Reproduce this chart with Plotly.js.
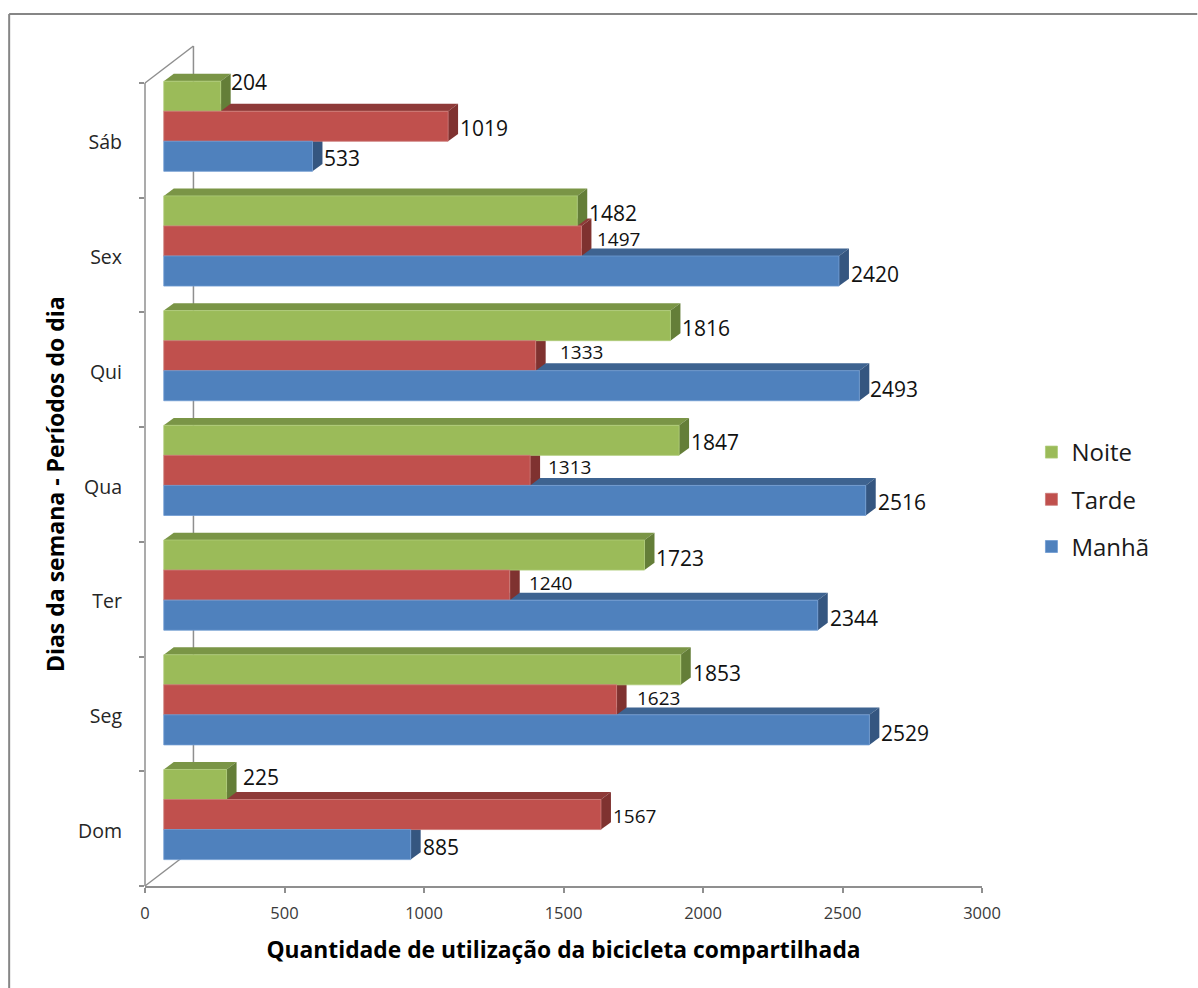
<!DOCTYPE html>
<html>
<head>
<meta charset="utf-8">
<script src="https://cdn.plot.ly/plotly-3.0.1.min.js"></script>
<style>html,body{margin:0;padding:0;background:#fff}</style>
</head>
<body>
<div id="chart" style="width:1198px;height:988px"></div>
<script>
// Bike-share usage per weekday and period of the day
const dias  = ['Dom', 'Seg', 'Ter', 'Qua', 'Qui', 'Sex', 'Sáb'];
const manha = [885, 2529, 2344, 2516, 2493, 2420, 533];
const tarde = [1567, 1623, 1240, 1313, 1333, 1497, 1019];
const noite = [225, 1853, 1723, 1847, 1816, 1482, 204];
const xTicks = [0, 500, 1000, 1500, 2000, 2500, 3000];

// Label nudges in px (right, down) from the bar's front end and centre
const nudgeManha = [[12, 2], [12, 3], [12, 2.5], [12, 2], [11, 3], [11.7, 3], [12, 2]];
const nudgeTarde = [[12, 1], [20, -2], [19, -2.5], [18, -3], [24, -4], [15.6, -2], [12, 2]];
const nudgeNoite = [[16.6, -7], [12, 3], [12, 2.5], [12, 2], [11.4, 2], [12, 2], [10.7, -14]];
const smallTarde = [true, true, true, true, true, true, false];

// Plot rectangle in page pixels
const L = 144.5, R = 982.5, T = 40, B = 886;
const pxPerUnitX = (R - L) / 3000, pxPerCat = 114.71;

// Pseudo-3D projection, expressed in data units
const floorX = 18.8 / pxPerUnitX;
const depthX = 10 / pxPerUnitX;
const depthY = 7.4 / pxPerCat;
const barH = 30.05 / pxPerCat;
const groupBottom = -0.27;

const FONT = '"Open Sans", sans-serif';
const GREY = '#8F8F8F';

const series = [
  {name: 'Manhã', vals: manha, nudge: nudgeManha, slot: 0, front: '#4F81BD', edge: '#6F9BD2', top: '#3E6390', side: '#355680'},
  {name: 'Tarde', vals: tarde, nudge: nudgeTarde, slot: 1, front: '#C0504D', edge: '#CC7A77', top: '#8E3A38', side: '#7F3230'},
  {name: 'Noite', vals: noite, nudge: nudgeNoite, slot: 2, front: '#9BBB59', edge: '#AFCB78', top: '#7A9546', side: '#647E38'}
];

const px = x => (x - L) / (R - L);
const py = y => (B - y) / (B - T);
const seg = (x0, y0, x1, y1, color, width) => ({
  type: 'line', layer: 'below', xref: 'paper', yref: 'paper',
  x0: px(x0), y0: py(y0), x1: px(x1), y1: py(y1),
  line: {color: color, width: width}
});

// Outer frame, side wall outline and the vertical axis line
const shapes = [
  seg(8.5, 14, 1198, 14, '#868686', 2),
  seg(8.5, 14, 8.5, 988, '#868686', 2),
  seg(L, 83, 193, 46, GREY, 1.5),
  seg(193, 46, 193, 849, GREY, 1.5),
  seg(L, B, 193, 849, GREY, 1.5),
  seg(L, 83, L, B, GREY, 1.5)
];

const poly = (pts, color) => ({
  type: 'path', layer: 'below', xref: 'x', yref: 'y',
  path: pts.map((p, i) => (i ? 'L' : 'M') + p[0] + ' ' + p[1]).join(' ') + ' Z',
  fillcolor: color, line: {width: 0}
});

const traces = [];
const annotations = [{
  xref: 'paper', yref: 'paper', x: px(54), y: py(484.5),
  text: 'Dias da semana - Períodos do dia', textangle: -90, showarrow: false,
  xanchor: 'center', yanchor: 'middle',
  font: {family: FONT, size: 23, color: '#000', weight: 700}
}];

series.forEach(s => {
  const offset = groupBottom + s.slot * barH;
  s.vals.forEach((v, i) => {
    const x1 = floorX + v;
    const lo = i + offset, hi = lo + barH;
    // Top and end faces of the box sit behind every front face
    shapes.push(poly([[floorX, hi], [floorX + depthX, hi + depthY], [x1 + depthX, hi + depthY], [x1, hi]], s.top));
    shapes.push(poly([[x1, hi], [x1 + depthX, hi + depthY], [x1 + depthX, lo + depthY], [x1, lo]], s.side));
    const small = s.name === 'Tarde' && smallTarde[i];
    annotations.push({
      xref: 'x', yref: 'y', x: x1, y: (lo + hi) / 2,
      text: String(v), showarrow: false, xanchor: 'left', yanchor: 'middle',
      xshift: s.nudge[i][0] - 1, yshift: -s.nudge[i][1], borderpad: 0,
      font: {family: FONT, size: small ? 19 : 21, color: '#111'}
    });
  });
  traces.push({
    type: 'bar', orientation: 'h', name: s.name, legendgroup: s.name,
    y: dias.map((d, i) => i), x: s.vals, base: floorX,
    width: barH, offset: offset,
    marker: {color: s.front, line: {color: s.edge, width: 0.8}},
    hovertemplate: s.name + ': %{x}<extra></extra>'
  });
});
// Legend reads top-down from the evening series
traces.reverse();

const layout = {
  width: 1198, height: 988,
  margin: {l: L, r: 1198 - R, t: T, b: 988 - B, pad: 0},
  paper_bgcolor: '#fff', plot_bgcolor: 'rgba(0,0,0,0)',
  barmode: 'overlay', shapes: shapes, annotations: annotations,
  font: {family: FONT},
  xaxis: {
    range: [0, 3000], tickvals: xTicks, ticktext: xTicks.map(String),
    showgrid: false, zeroline: false, showline: true, linecolor: GREY, linewidth: 1.5,
    ticks: 'outside', ticklen: 5, tickcolor: GREY, tickwidth: 1.5,
    tickfont: {family: FONT, size: 16.5, color: '#3a3a3a'},
    ticklabelstandoff: 6,
    title: {text: 'Quantidade de utilização da bicicleta compartilhada',
            font: {family: FONT, size: 22.8, color: '#000', weight: 700}, standoff: 19}
  },
  yaxis: {
    range: [-0.5, 6.5 + (83 - T) / pxPerCat],
    tickvals: dias.map((d, i) => i - 0.02), ticktext: dias,
    showgrid: false, zeroline: false, showline: false, ticks: '',
    tickfont: {family: FONT, size: 19.5, color: '#262626'},
    ticklabelstandoff: 22,
    minor: {tickvals: [-0.5, 0.5, 1.5, 2.5, 3.5, 4.5, 5.5, 6.5], ticks: 'outside', ticklen: 5,
            tickcolor: GREY, tickwidth: 1.5, showgrid: false}
  },
  legend: {
    x: px(1032), xanchor: 'left', y: py(430), yanchor: 'top',
    traceorder: 'grouped', tracegroupgap: 13,
    font: {family: FONT, size: 24, color: '#1a1a1a'}, bgcolor: 'rgba(0,0,0,0)'
  },
  showlegend: true
};

Plotly.newPlot('chart', traces, layout, {displayModeBar: false, responsive: false});
</script>
</body>
</html>
